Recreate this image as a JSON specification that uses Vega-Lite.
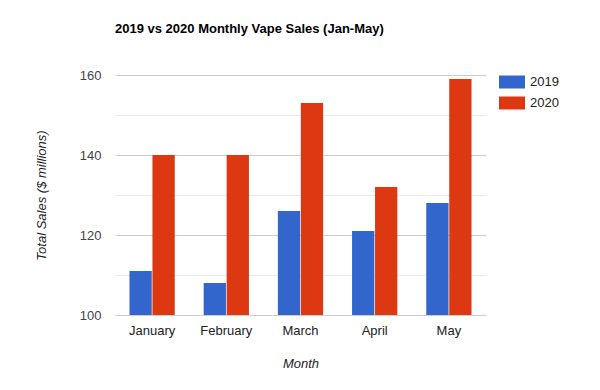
{
  "$schema": "https://vega.github.io/schema/vega-lite/v6.json",
  "autosize": "none",
  "padding": {"left": 115, "top": 75, "right": 114, "bottom": 75},
  "width": 371,
  "height": 240,
  "background": "white",
  "title": {
    "text": "2019 vs 2020 Monthly Vape Sales (Jan-May)",
    "anchor": "start",
    "frame": "group",
    "font": "Liberation Sans",
    "fontSize": 13,
    "fontWeight": "bold",
    "color": "#000000",
    "baseline": "alphabetic",
    "offset": 23
  },
  "data": {
    "values": [
      {"month": "January", "year": "2019", "sales": 111},
      {"month": "January", "year": "2020", "sales": 140},
      {"month": "February", "year": "2019", "sales": 108},
      {"month": "February", "year": "2020", "sales": 140},
      {"month": "March", "year": "2019", "sales": 126},
      {"month": "March", "year": "2020", "sales": 153},
      {"month": "April", "year": "2019", "sales": 121},
      {"month": "April", "year": "2020", "sales": 132},
      {"month": "May", "year": "2019", "sales": 128},
      {"month": "May", "year": "2020", "sales": 159}
    ]
  },
  "mark": {"type": "bar", "clip": true},
  "encoding": {
    "x": {
      "field": "month",
      "type": "nominal",
      "sort": ["January", "February", "March", "April", "May"],
      "scale": {"paddingInner": 0.39, "paddingOuter": 0.195},
      "axis": {
        "title": "Month",
        "labelAngle": 0,
        "labelFont": "Liberation Sans",
        "labelFontSize": 13,
        "labelColor": "#222222",
        "labelPadding": 9,
        "ticks": false,
        "domain": true,
        "domainColor": "#cccccc",
        "titleFont": "Liberation Sans",
        "titleFontSize": 13,
        "titleFontStyle": "italic",
        "titleFontWeight": "normal",
        "titleColor": "#222222",
        "titleBaseline": "alphabetic",
        "titleY": 52,
        "titleX": 185.5
      }
    },
    "xOffset": {
      "field": "year",
      "type": "nominal",
      "scale": {"paddingInner": 0.03}
    },
    "y": {
      "field": "sales",
      "type": "quantitative",
      "scale": {"domain": [100, 160], "zero": false, "nice": false},
      "axis": {
        "title": "Total Sales ($ millions)",
        "values": [100, 110, 120, 130, 140, 150, 160],
        "labelExpr": "datum.value % 20 === 0 ? datum.label : ''",
        "labelFont": "Liberation Sans",
        "labelFontSize": 13,
        "labelColor": "#444444",
        "labelPadding": 14,
        "ticks": false,
        "domain": false,
        "grid": true,
        "gridColor": {"condition": {"test": "datum.value % 20 === 0", "value": "#cccccc"}, "value": "#ebebeb"},
        "gridWidth": 1,
        "titleFont": "Liberation Sans",
        "titleFontSize": 13,
        "titleFontStyle": "italic",
        "titleFontWeight": "normal",
        "titleColor": "#222222",
        "titleBaseline": "middle",
        "titleAngle": -90,
        "titleX": -74,
        "titleY": 120
      }
    },
    "color": {
      "field": "year",
      "type": "nominal",
      "scale": {"domain": ["2019", "2020"], "range": ["#3366cc", "#dc3912"]},
      "legend": {
        "title": null,
        "orient": "none",
        "legendX": 384,
        "legendY": -6,
        "symbolType": "M-1,-0.5H1V0.5H-1Z",
        "symbolSize": 676,
        "symbolStrokeWidth": 0,
        "symbolOpacity": 1,
        "labelFont": "Liberation Sans",
        "labelFontSize": 13,
        "labelColor": "#222222",
        "labelOffset": 5,
        "rowPadding": 1
      }
    }
  },
  "config": {
    "view": {"stroke": null},
    "bar": {"stroke": null}
  }
}
